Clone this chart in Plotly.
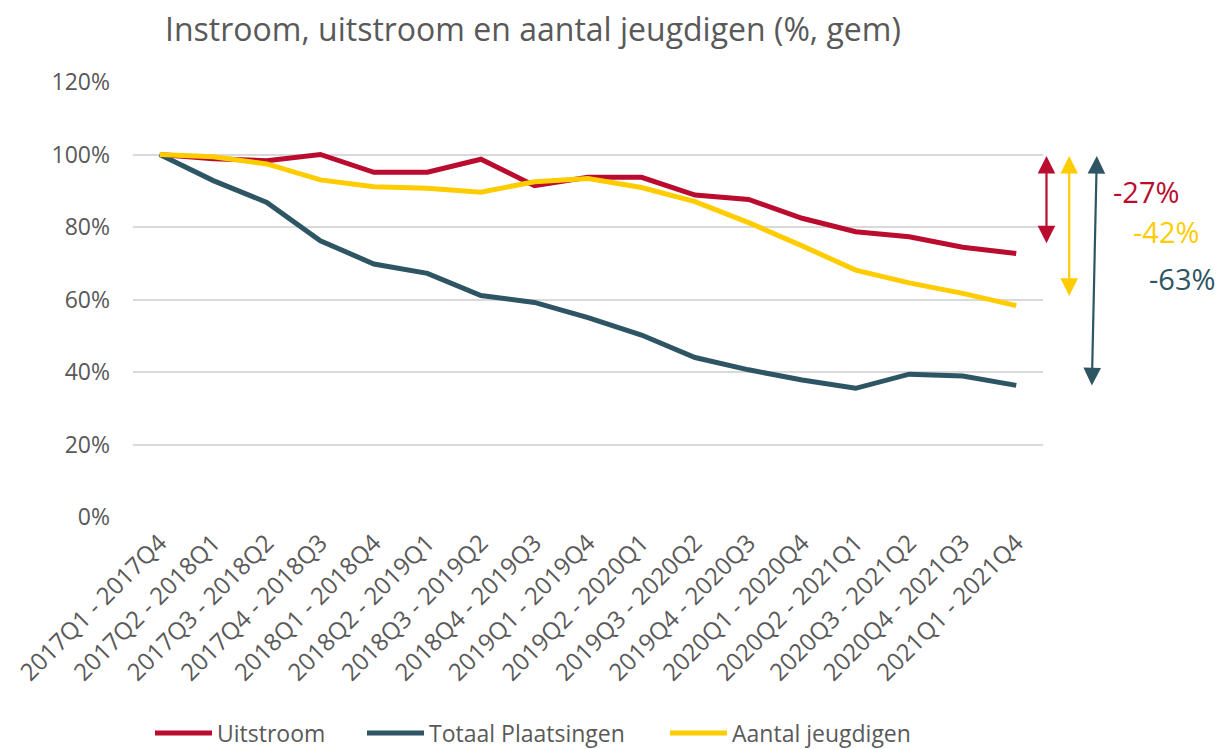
import plotly.graph_objects as go

categories = [
    "2017Q1 - 2017Q4", "2017Q2 - 2018Q1", "2017Q3 - 2018Q2", "2017Q4 - 2018Q3",
    "2018Q1 - 2018Q4", "2018Q2 - 2019Q1", "2018Q3 - 2019Q2", "2018Q4 - 2019Q3",
    "2019Q1 - 2019Q4", "2019Q2 - 2020Q1", "2019Q3 - 2020Q2", "2019Q4 - 2020Q3",
    "2020Q1 - 2020Q4", "2020Q2 - 2021Q1", "2020Q3 - 2021Q2", "2020Q4 - 2021Q3",
    "2021Q1 - 2021Q4",
]

uitstroom = [100, 98.8, 98.3, 100, 95.1, 95.1, 98.7, 91.4, 93.7, 93.7,
             88.8, 87.6, 82.4, 78.7, 77.3, 74.4, 72.7]
totaal_plaatsingen = [100, 92.8, 86.8, 76.2, 69.8, 67.2, 61.1, 59.2, 55.0, 50.2,
                      44.0, 40.6, 37.8, 35.5, 39.4, 38.9, 36.3]
aantal_jeugdigen = [100, 99.4, 97.4, 93.0, 91.1, 90.7, 89.6, 92.5, 93.4, 90.9,
                    87.0, 81.2, 74.8, 68.1, 64.6, 61.7, 58.3]

series_names = ["Uitstroom", "Totaal Plaatsingen", "Aantal jeugdigen"]
series_values = [uitstroom, totaal_plaatsingen, aantal_jeugdigen]
RED, TEAL, YELLOW = "#BA0C2F", "#2E5563", "#FFCC00"
series_colors = [RED, TEAL, YELLOW]

# change arrows (order as drawn: red, yellow, teal)
change_labels = ["-27%", "-42%", "-63%"]
change_colors = [RED, YELLOW, TEAL]
arrow_start = [100, 100, 100]
arrow_end = [75.5, 61.0, 36.3]

y_ticks = [0, 20, 40, 60, 80, 100, 120]
y_ticktext = [f"{v}%" for v in y_ticks]

TEXT = "#595959"
FONT = "Open Sans"

# plot area pixel geometry
L, R, T, B = 130, 173, 82, 232
W = 1216 - L - R
H = 749 - T - B


def px_to_paper_x(px):
    return (px - L) / W


def px_to_paper_y(py):
    return 1 - (py - T) / H


legend_ids = ["legend", "legend2", "legend3"]
legend_x = [150, 362, 665]

fig = go.Figure()
for name, vals, col, lid in zip(series_names, series_values, series_colors, legend_ids):
    fig.add_trace(go.Scatter(
        x=list(range(len(categories))), y=vals, name=name, mode="lines",
        line=dict(color=col, width=5, shape="linear"), legend=lid,
    ))

arrow_x = [1046.5, 1069.3, 1092.0]
arrow_dx = [0, 0, 5]
label_x = [1111, 1131, 1147]
label_y = [191.0, 231.0, 278.0]

for i in range(3):
    fig.add_annotation(
        xref="paper", yref="y", x=px_to_paper_x(arrow_x[i]), y=arrow_end[i],
        axref="pixel", ayref="y", ax=arrow_dx[i], ay=arrow_start[i],
        showarrow=True, arrowside="end+start", arrowhead=2, arrowsize=1.6,
        arrowwidth=2.2, arrowcolor=change_colors[i], text="", standoff=0,
        startstandoff=0,
    )
    fig.add_annotation(
        xref="paper", yref="paper", x=px_to_paper_x(label_x[i]),
        y=px_to_paper_y(label_y[i]),
        xanchor="left", yanchor="middle", showarrow=False,
        text=change_labels[i],
        font=dict(family=FONT, size=29, color=change_colors[i]),
    )

legend_common = dict(
    orientation="h", xref="container", yref="container",
    xanchor="left", y=1 - 733 / 749, yanchor="middle",
    font=dict(family=FONT, size=23, color=TEXT),
    itemwidth=57, bgcolor="rgba(0,0,0,0)", borderwidth=0,
)

fig.update_layout(
    width=1216, height=749,
    margin=dict(l=L, r=R, t=T, b=B, pad=0),
    paper_bgcolor="white", plot_bgcolor="white",
    font=dict(family=FONT, color=TEXT, size=23),
    title=dict(
        text="Instroom, uitstroom en aantal jeugdigen (%, gem)",
        x=165 / 1216, xref="container", xanchor="left",
        y=1 - 30 / 749, yref="container", yanchor="middle",
        font=dict(family=FONT, size=32, color=TEXT),
    ),
    xaxis=dict(
        tickmode="array", tickvals=list(range(len(categories))),
        ticktext=categories, tickangle=-45, range=[-0.5, len(categories) - 0.5],
        showgrid=False, zeroline=False, showline=False, ticks="",
        ticklabelstandoff=6,
        tickfont=dict(family=FONT, size=24, color=TEXT),
    ),
    yaxis=dict(
        range=[0, 120], tickmode="array", tickvals=y_ticks, ticktext=y_ticktext,
        showgrid=True, gridcolor="#D9D9D9", gridwidth=1.5, zeroline=False,
        showline=False, ticks="", ticklabelstandoff=22,
        tickfont=dict(family=FONT, size=23, color=TEXT),
    ),
    showlegend=True,
    legend=dict(legend_common, x=legend_x[0] / 1216),
    legend2=dict(legend_common, x=legend_x[1] / 1216),
    legend3=dict(legend_common, x=legend_x[2] / 1216),
)

fig.write_html(
    "out.html",
    config={"displayModeBar": False},
    post_script="document.body.style.margin='0';document.body.style.overflow='hidden';",
)
